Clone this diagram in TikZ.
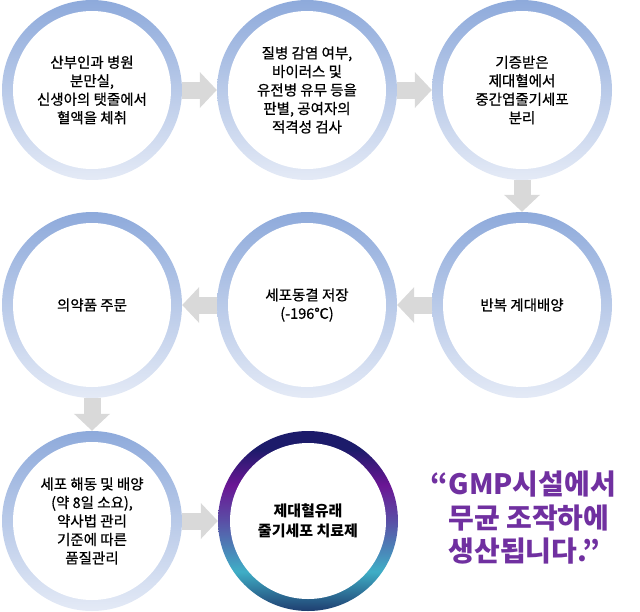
\documentclass[tikz,border=0pt]{standalone}
\usepackage{fontspec}
\setmainfont{Noto Sans CJK KR}
\newfontfamily\krmed[FakeBold=0.7]{Noto Sans CJK KR}
\usetikzlibrary{arrows.meta,shapes.geometric}
\definecolor{ringtop}{HTML}{8EAADB}
\definecolor{ringbot}{HTML}{E4EAF6}
\definecolor{arrowgray}{HTML}{D9D9D9}
\definecolor{quotepurple}{HTML}{7030A0}
\definecolor{dA}{HTML}{1C1B6A}
\definecolor{dB}{HTML}{6A1694}
\definecolor{dC}{HTML}{5A4FA6}
\definecolor{dD}{HTML}{3FAEC6}
\definecolor{dE}{HTML}{1F3E70}
\pgfdeclareverticalshading{darkring}{100bp}{color(0bp)=(dE); color(25bp)=(dE); color(36bp)=(dD); color(50bp)=(dC); color(60bp)=(dB); color(70bp)=(dA); color(100bp)=(dA)}
\begin{document}
\begin{tikzpicture}[x=1pt,y=-1pt,
  ringblue/.style={ellipse, draw=none, inner sep=0pt, minimum width=180pt, minimum height=#1, top color=ringtop, bottom color=ringbot},
  ringblue/.default=180pt,
  ringdark/.style={ellipse, draw=none, inner sep=0pt, minimum width=180pt, minimum height=180pt, shading=darkring},
  innerw/.style={ellipse, fill=white, inner sep=0pt, minimum width=158pt, minimum height=#1, align=center, font=\krmed\fontsize{14.5}{18.5}\selectfont},
  innerw/.default=158pt,
  blockarrow/.style={draw=arrowgray, line width=17pt, -{Triangle[width=35pt,length=17pt]}}
]
\useasboundingbox (0,0) rectangle (640,611);
% row 1
\node[ringblue] (r1) at (92,90) {};
\node[innerw] (c1) at (92,90) {산부인과 병원\\분만실,\\신생아의 탯줄에서\\혈액을 체취};
\node[ringblue] (r2) at (307,90) {};
\node[innerw] (c2) at (307,90) {질병 감염 여부,\\바이러스 및\\유전병 유무 등을\\판별, 공여자의\\적격성 검사};
\node[ringblue] (r3) at (522,90) {};
\node[innerw] (c3) at (522,90) {기증받은\\제대혈에서\\중간엽줄기세포\\분리};
% row 2
\node[ringblue=186pt] (r4) at (92,305) {};
\node[innerw=164pt] (c4) at (92,305) {의약품 주문};
\node[ringblue=186pt] (r5) at (307,305) {};
\node[innerw=164pt] (c5) at (307,305) {세포동결 저장\\(-196℃)};
\node[ringblue=186pt] (r6) at (522,305) {};
\node[innerw=164pt] (c6) at (522,305) {반복 계대배양};
% row 3
\node[ringblue] (r7) at (92,521) {};
\node[innerw] (c7) at (92,521) {세포 해동 및 배양\\(약 8일 소요),\\약사법 관리\\기준에 따른\\품질관리};
\node[ringdark] (r8) at (308,521) {};
\node[innerw=156pt, minimum width=156pt, font=\fontsize{15}{20}\selectfont\bfseries] (c8) at (308,521) {제대혈유래\\줄기세포 치료제};
% quote
\node[anchor=west, align=left, text=quotepurple, font=\fontsize{28}{33.5}\selectfont\bfseries] (q) at (445,518) {\llap{“}GMP시설에서\\무균 조작하에\\생산됩니다.”};
% arrows
\draw[blockarrow] (r1.east) -- (r2.west);
\draw[blockarrow] (r2.east) -- (r3.west);
\draw[blockarrow] (r3.south) -- (r6.north);
\draw[blockarrow] (r6.west) -- (r5.east);
\draw[blockarrow] (r5.west) -- (r4.east);
\draw[blockarrow] (r4.south) -- (r7.north);
\draw[blockarrow] (r7.east) -- (r8.west);
\end{tikzpicture}
\end{document}
